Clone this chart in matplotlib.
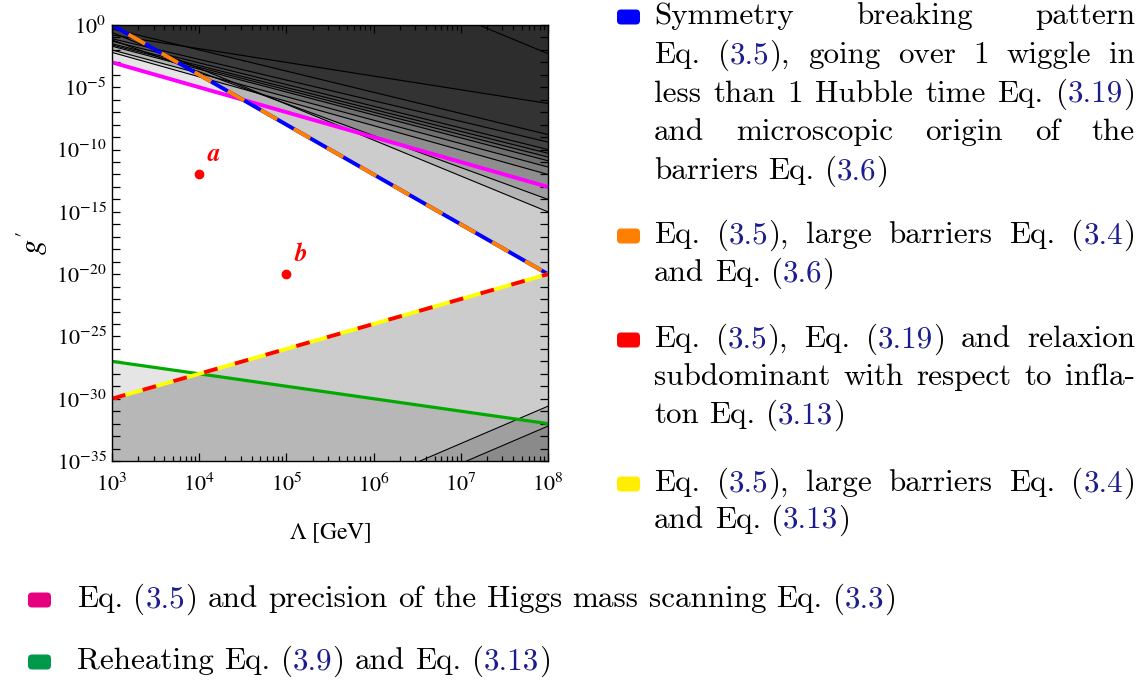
import re
import numpy as np
import matplotlib
matplotlib.use("Agg")
import matplotlib.pyplot as plt
from matplotlib.ticker import FixedLocator, LogLocator, NullFormatter, LogFormatterSciNotation
from matplotlib.transforms import IdentityTransform
from matplotlib.patches import FancyBboxPatch

plt.rcParams['mathtext.fontset'] = 'stix'
plt.rcParams['font.family'] = 'STIXGeneral'
plt.rcParams['lines.scale_dashes'] = False

# --- data: log10(g') at Lambda = 1e3 GeV and 1e8 GeV (straight lines in log-log) ---
lam_ends = np.array([1e3, 1e8])
blue_orange = [0.0, -20.0]       # symmetry breaking / large barriers (excluded above)
red_yellow = [-30.0, -20.0]      # relaxion subdominant / large barriers (excluded below)
magenta = [-3.0, -13.0]          # Higgs mass scanning precision (excluded above)
green = [-27.0, -32.0]           # reheating (excluded below)
upper_black = [[-0.8, -6.3], [-0.3, -8.8], [-1.1, -9.4], [-1.3, -10.0],
               [-1.5, -10.3], [-1.6, -10.6], [-1.7, -10.9], [-2.0, -11.4],
               [-2.2, -12.0], [-1.2, -14.0], [-0.6, -15.0]]
top_black = [12.2, -2.3]
lower_black = [[-45.6, -30.6], [-47.2, -32.2]]
point_lam = [1e4, 1e5]
point_g = [1e-12, 1e-20]
point_names = ['a', 'b']

NAVY = '#1c1c8c'
right_paragraphs = [
    ('#0000ff', ["Symmetry breaking pattern",
                 "Eq. ([3.5]), going over 1 wiggle in",
                 "less than 1 Hubble time Eq. ([3.19])",
                 "and microscopic origin of the",
                 "barriers Eq. ([3.6])"], [17, 56, 95, 133, 172]),
    ('#ff7f00', ["Eq. ([3.5]), large barriers Eq. ([3.4])",
                 "and Eq. ([3.6])"], [236, 274]),
    ('#ff0000', ["Eq. ([3.5]), Eq. ([3.19]) and relaxion",
                 "subdominant with respect to infla-",
                 "ton Eq. ([3.13])"], [340, 378, 416]),
    ('#ffee00', ["Eq. ([3.5]), large barriers Eq. ([3.4])",
                 "and Eq. ([3.13])"], [484, 521]),
]
bottom_paragraphs = [
    ('#e6007e', ["Eq. ([3.5]) and precision of the Higgs mass scanning Eq. ([3.3])"], [600]),
    ('#00994c', ["Reheating Eq. ([3.9]) and Eq. ([3.13])"], [662]),
]


def gval(ends):
    return 10.0 ** np.array(ends, dtype=float)


W, H = 1145, 684
fig = plt.figure(figsize=(W / 100, H / 100), dpi=100)
ax = fig.add_axes([112 / W, 1 - 461 / H, 436 / W, 436 / H])
ax.set_xscale('log')
ax.set_yscale('log')

TOP, BOT = 1e30, 1e-80
# excluded regions as stacked translucent grey
ax.fill_between(lam_ends, gval(blue_orange), TOP, color='black', alpha=0.2, lw=0)
ax.fill_between(lam_ends, gval(magenta), TOP, color='black', alpha=0.1, lw=0)
ax.fill_between(lam_ends, BOT, gval(red_yellow), color='black', alpha=0.2, lw=0)
ax.fill_between(lam_ends, BOT, gval(green), color='black', alpha=0.1, lw=0)
for ends in upper_black:
    ax.fill_between(lam_ends, gval(ends), TOP, color='black', alpha=0.118, lw=0)
    ax.plot(lam_ends, gval(ends), color='black', lw=0.8)
ax.plot(lam_ends, gval(top_black), color='black', lw=0.8)
for ends in lower_black:
    ax.fill_between(lam_ends, BOT, gval(ends), color='black', alpha=0.13, lw=0)
    ax.plot(lam_ends, gval(ends), color='black', lw=0.8)

# coloured boundaries
ax.plot(lam_ends, gval(green), color='#00aa00', lw=2.3)
ax.plot(lam_ends, gval(magenta), color='#ff00ff', lw=2.8)
ax.plot(lam_ends, gval(blue_orange), color='#0000ff', lw=2.8)
ax.plot(lam_ends, gval(blue_orange), color='#ff7f00', lw=2.8, linestyle=(13.7, (13.7, 13.7)))
ax.plot(lam_ends, gval(red_yellow), color='#ffff00', lw=2.8)
ax.plot(lam_ends, gval(red_yellow), color='#ff0000', lw=2.8, linestyle=(0, (10, 13)))

# benchmark points
ax.plot(point_lam, point_g, 'o', color='#ff0000', ms=6, zorder=5)
for lx, gy, name in zip(point_lam, point_g, point_names):
    ax.annotate(name, (lx, gy), xytext=(6, 6), textcoords='offset points',
                color='#ff0000', fontsize=18, fontweight='bold', style='italic',
                ha='left', va='bottom')

ax.set_xlim(1e3, 1e8)
ax.set_ylim(1e-35, 1e0)
ax.xaxis.set_major_locator(FixedLocator(10.0 ** np.arange(3, 9)))
ax.xaxis.set_minor_locator(LogLocator(base=10, subs=np.arange(2, 10), numticks=20))
ax.xaxis.set_minor_formatter(NullFormatter())
ax.yaxis.set_major_locator(FixedLocator(10.0 ** np.arange(-35, 1, 5)))
ax.yaxis.set_minor_locator(FixedLocator(10.0 ** np.arange(-35, 1)))
ax.yaxis.set_minor_formatter(NullFormatter())
ax.xaxis.set_major_formatter(LogFormatterSciNotation())
ax.yaxis.set_major_formatter(LogFormatterSciNotation())
ax.tick_params(which='both', direction='in', top=True, right=True, labelsize=16, width=0.9)
ax.tick_params(axis='x', which='major', length=6, pad=9)
ax.tick_params(axis='x', which='minor', length=3.5)
ax.tick_params(axis='y', which='both', length=6, pad=4)
for sp in ax.spines.values():
    sp.set_linewidth(1.0)
ax.set_xlabel(r'$\Lambda$ [GeV]', fontsize=17, labelpad=18)
ax.set_ylabel(r"$g^{\prime}$", fontsize=22, labelpad=4)

# --- legend drawn as justified text ---
renderer = fig.canvas.get_renderer()
FS = 22.4
SPACE = FS * 100 / 72 * 0.333


def pieces_of(word):
    out = []
    for part in re.split(r'(\[[^\]]*\])', word):
        if not part:
            continue
        if part.startswith('['):
            out.append((part[1:-1], NAVY))
        else:
            out.append((part, 'black'))
    return out


def put_line(text, x0, x1, ybase, justify):
    words = []
    for w in text.split():
        objs = []
        width = 0
        for s, c in pieces_of(w):
            t = fig.text(0, ybase, s, color=c, fontsize=FS, family='cmr10',
                         transform=IdentityTransform(), va='baseline', ha='left')
            pw = t.get_window_extent(renderer).width
            objs.append((t, pw))
            width += pw
        words.append((objs, width))
    total = sum(w for _, w in words)
    if justify and len(words) > 1:
        gap = (x1 - x0 - total) / (len(words) - 1)
    else:
        gap = SPACE
    x = x0
    for objs, width in words:
        xx = x
        for t, pw in objs:
            t.set_x(xx)
            xx += pw
        x += width + gap


def draw_paragraphs(paras, mark_x, x0, x1, justify_all):
    for color, lines, centers in paras:
        c0 = H - centers[0]
        fig.patches.append(FancyBboxPatch((mark_x, c0 - 7.5), 23, 15,
                                          boxstyle='round,pad=0,rounding_size=4',
                                          transform=IdentityTransform(),
                                          facecolor=color, edgecolor='none'))
        for i, (line, cy) in enumerate(zip(lines, centers)):
            last = i == len(lines) - 1
            put_line(line, x0, x1, H - cy - 7, justify_all and not last)


draw_paragraphs(right_paragraphs, 617, 654, 1135, True)
draw_paragraphs(bottom_paragraphs, 28, 77, 1135, False)

fig.savefig('out.png', dpi=100)
